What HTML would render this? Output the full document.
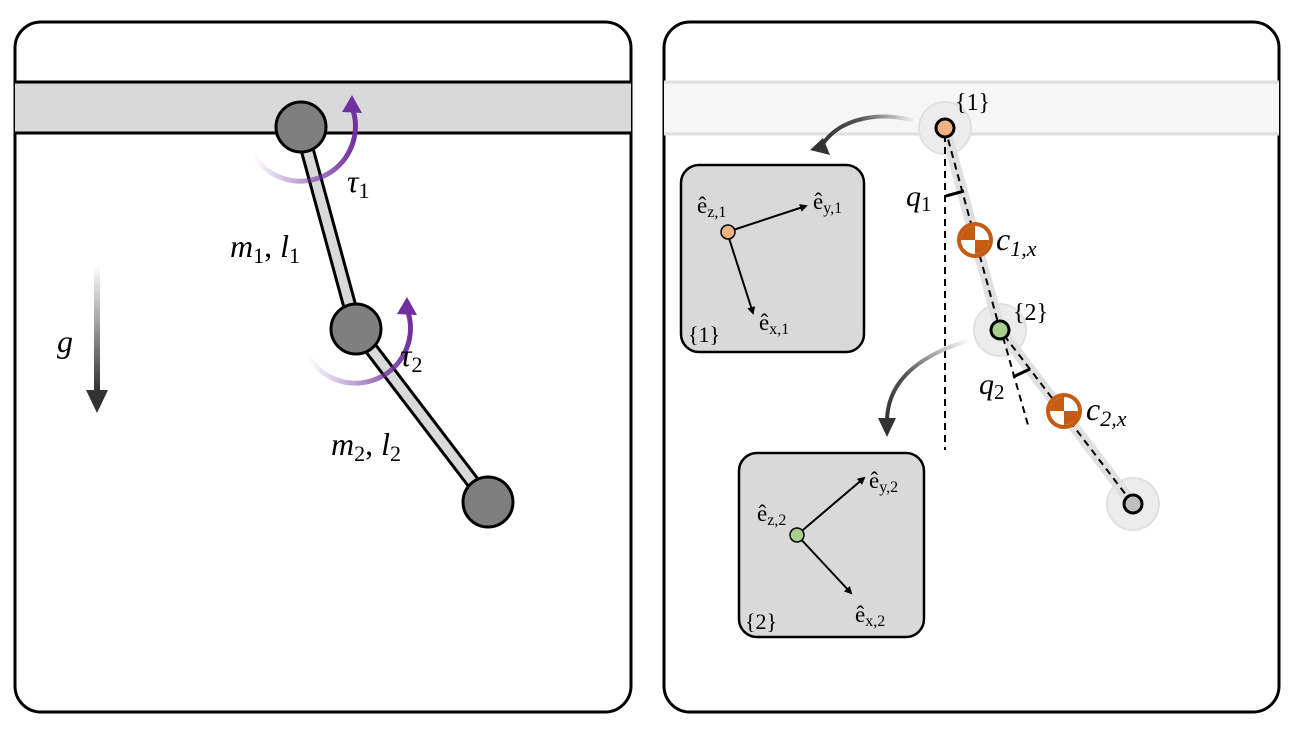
<!DOCTYPE html>
<html><head><meta charset="utf-8"><style>
html,body{margin:0;padding:0;background:#fff;width:1300px;height:731px;overflow:hidden}
svg{display:block}
text{font-family:"Liberation Serif","DejaVu Serif",serif;fill:#000}
.it{font-style:italic}
</style></head><body>
<svg width="1300" height="731" viewBox="0 0 1300 731">
<defs>
<linearGradient id="gArrow" x1="0" y1="0" x2="0" y2="1"><stop offset="0" stop-color="#fff"/><stop offset="1" stop-color="#333"/></linearGradient>
<linearGradient id="purp" x1="0" y1="0" x2="1" y2="0"><stop offset="0" stop-color="#7030a0" stop-opacity="0"/><stop offset="1" stop-color="#7030a0"/></linearGradient>
<linearGradient id="curv1" x1="1" y1="0" x2="0" y2="0"><stop offset="0" stop-color="#fff"/><stop offset="0.6" stop-color="#555"/><stop offset="1" stop-color="#333"/></linearGradient>
<linearGradient id="curv2" x1="1" y1="0" x2="0" y2="1"><stop offset="0" stop-color="#fff"/><stop offset="0.6" stop-color="#555"/><stop offset="1" stop-color="#333"/></linearGradient>
<marker id="ah" markerWidth="8" markerHeight="8" refX="6" refY="4" orient="auto" markerUnits="userSpaceOnUse"><path d="M0,0 L8,4 L0,8 z" fill="#000"/></marker>
</defs>

<g>
<rect x="15" y="22" width="616" height="690" rx="26" fill="#fff" stroke="#000" stroke-width="3"/>
<rect x="15" y="82" width="616" height="51" fill="#d9d9d9"/>
<line x1="15" y1="82" x2="631" y2="82" stroke="#000" stroke-width="3"/>
<line x1="15" y1="133" x2="631" y2="133" stroke="#000" stroke-width="3"/>
<g>
<line x1="301" y1="127" x2="356" y2="329" stroke="#000" stroke-width="15"/>
<line x1="301" y1="127" x2="356" y2="329" stroke="#d9d9d9" stroke-width="9"/></g>
<g>
<line x1="356" y1="329" x2="488" y2="502" stroke="#000" stroke-width="15"/>
<line x1="356" y1="329" x2="488" y2="502" stroke="#d9d9d9" stroke-width="9"/></g>
<path d="M253,154 A55,55 0 0 0 353,110" fill="none" stroke="url(#purp)" stroke-width="5"/>
<path d="M342,112 L352,95 L362,113 z" fill="#7030a0"/>
<path d="M308,356 A55,55 0 0 0 408,312" fill="none" stroke="url(#purp)" stroke-width="5"/>
<path d="M397,314 L407,297 L417,315 z" fill="#7030a0"/>
<circle cx="301" cy="127" r="25" fill="#7f7f7f" stroke="#000" stroke-width="3"/>
<circle cx="356" cy="329" r="25" fill="#7f7f7f" stroke="#000" stroke-width="3"/>
<circle cx="488" cy="502" r="25" fill="#7f7f7f" stroke="#000" stroke-width="3"/>
<text x="347" y="192" font-size="32" class="it">τ<tspan font-size="22" font-style="normal" dy="6">1</tspan></text>
<text x="400" y="366" font-size="32" class="it">τ<tspan font-size="22" font-style="normal" dy="6">2</tspan></text>
<text x="230" y="257" font-size="32" class="it">m<tspan font-size="22" font-style="normal" dy="6">1</tspan><tspan dy="-6" font-style="normal">, </tspan>l<tspan font-size="22" font-style="normal" dy="6">1</tspan></text>
<text x="331" y="455" font-size="32" class="it">m<tspan font-size="22" font-style="normal" dy="6">2</tspan><tspan dy="-6" font-style="normal">, </tspan>l<tspan font-size="22" font-style="normal" dy="6">2</tspan></text>
<rect x="94" y="265" width="6" height="125" fill="url(#gArrow)"/>
<path d="M86,390 L108,390 L97,413 z" fill="#333"/>
<text x="57" y="352" font-size="32" class="it">g</text>
</g>

<g>
<rect x="664" y="22" width="615" height="690" rx="26" fill="#fff" stroke="#000" stroke-width="3"/>
<rect x="664" y="82" width="615" height="52" fill="#f6f6f6"/>
<line x1="664" y1="82" x2="1279" y2="82" stroke="#dedede" stroke-width="3"/>
<line x1="664" y1="134" x2="1279" y2="134" stroke="#dedede" stroke-width="3"/>
<circle cx="945" cy="128" r="26" fill="#ececec" stroke="#e0e0e0" stroke-width="2"/>
<circle cx="1000" cy="330" r="26" fill="#ececec" stroke="#e0e0e0" stroke-width="2"/>
<circle cx="1133" cy="504" r="26" fill="#ececec" stroke="#e0e0e0" stroke-width="2"/>
<polyline points="945,128 1000,330 1133,504" fill="none" stroke="#e0e0e0" stroke-width="11"/>
<polyline points="945,128 1000,330 1133,504" fill="none" stroke="#000" stroke-width="2" stroke-dasharray="7,5"/>
<line x1="945" y1="135" x2="945" y2="450" stroke="#000" stroke-width="2" stroke-dasharray="7,5"/>
<line x1="1003" y1="337" x2="1028" y2="425" stroke="#000" stroke-width="2" stroke-dasharray="7,5"/>
<path d="M946,196 L964,191" stroke="#000" stroke-width="3" fill="none"/>
<path d="M1013,377 L1030,369" stroke="#000" stroke-width="3" fill="none"/>
<text x="906" y="206" font-size="30" class="it">q<tspan font-size="21" font-style="normal" dy="5">1</tspan></text>
<text x="979" y="394" font-size="30" class="it">q<tspan font-size="21" font-style="normal" dy="5">2</tspan></text>
<g>
<circle cx="975" cy="240" r="16" fill="#fff" stroke="#c55a11" stroke-width="4"/>
<path d="M975,240 L975,226 A14,14 0 0 0 961,240 z" fill="#c55a11"/>
<path d="M975,240 L975,254 A14,14 0 0 0 989,240 z" fill="#c55a11"/></g>
<g>
<circle cx="1064" cy="411" r="16" fill="#fff" stroke="#c55a11" stroke-width="4"/>
<path d="M1064,411 L1064,397 A14,14 0 0 0 1050,411 z" fill="#c55a11"/>
<path d="M1064,411 L1064,425 A14,14 0 0 0 1078,411 z" fill="#c55a11"/></g>
<text x="996" y="250" font-size="32" class="it">c<tspan font-size="22" dy="6">1,x</tspan></text>
<text x="1086" y="420" font-size="32" class="it">c<tspan font-size="22" dy="6">2,x</tspan></text>
<circle cx="945" cy="128" r="9" fill="#f4b183" stroke="#000" stroke-width="3"/>
<circle cx="1000" cy="330" r="9" fill="#a9d18e" stroke="#000" stroke-width="3"/>
<circle cx="1133" cy="504" r="9" fill="#bfbfbf" stroke="#000" stroke-width="3"/>
<text x="955" y="110" font-size="24">{1}</text>
<text x="1013" y="320" font-size="24">{2}</text>
<path d="M918,122 C880,110 840,118 822,145" fill="none" stroke="url(#curv1)" stroke-width="4"/>
<path d="M810,150 L830,155 L823,138 z" fill="#333"/>
<path d="M970,340 C920,355 888,380 887,420" fill="none" stroke="url(#curv2)" stroke-width="4"/>
<path d="M878,418 L896,418 L887,437 z" fill="#333"/>
<g>
<rect x="681" y="165" width="183" height="187" rx="18" fill="#d9d9d9" stroke="#000" stroke-width="2.5"/>
<line x1="727" y1="232" x2="806" y2="206" stroke="#000" stroke-width="2" marker-end="url(#ah)"/>
<line x1="727" y1="232" x2="753" y2="313" stroke="#000" stroke-width="2" marker-end="url(#ah)"/>
<circle cx="728" cy="232" r="7" fill="#f4b183" stroke="#000" stroke-width="1.5"/>
<text x="697" y="213" font-size="23">ê<tspan font-size="16" dy="4">z,1</tspan></text>
<text x="813" y="209" font-size="23">ê<tspan font-size="16" dy="4">y,1</tspan></text>
<text x="759" y="330" font-size="23">ê<tspan font-size="16" dy="4">x,1</tspan></text>
<text x="688" y="342" font-size="22">{1}</text></g>
<g>
<rect x="739" y="453" width="185" height="184" rx="18" fill="#d9d9d9" stroke="#000" stroke-width="2.5"/>
<line x1="797" y1="535" x2="864" y2="478" stroke="#000" stroke-width="2" marker-end="url(#ah)"/>
<line x1="797" y1="535" x2="851" y2="593" stroke="#000" stroke-width="2" marker-end="url(#ah)"/>
<circle cx="797" cy="535" r="7" fill="#a9d18e" stroke="#000" stroke-width="1.5"/>
<text x="757" y="521" font-size="23">ê<tspan font-size="16" dy="4">z,2</tspan></text>
<text x="869" y="488" font-size="23">ê<tspan font-size="16" dy="4">y,2</tspan></text>
<text x="855" y="622" font-size="23">ê<tspan font-size="16" dy="4">x,2</tspan></text>
<text x="745" y="629" font-size="22">{2}</text></g>
</g>
</svg>
</body></html>
